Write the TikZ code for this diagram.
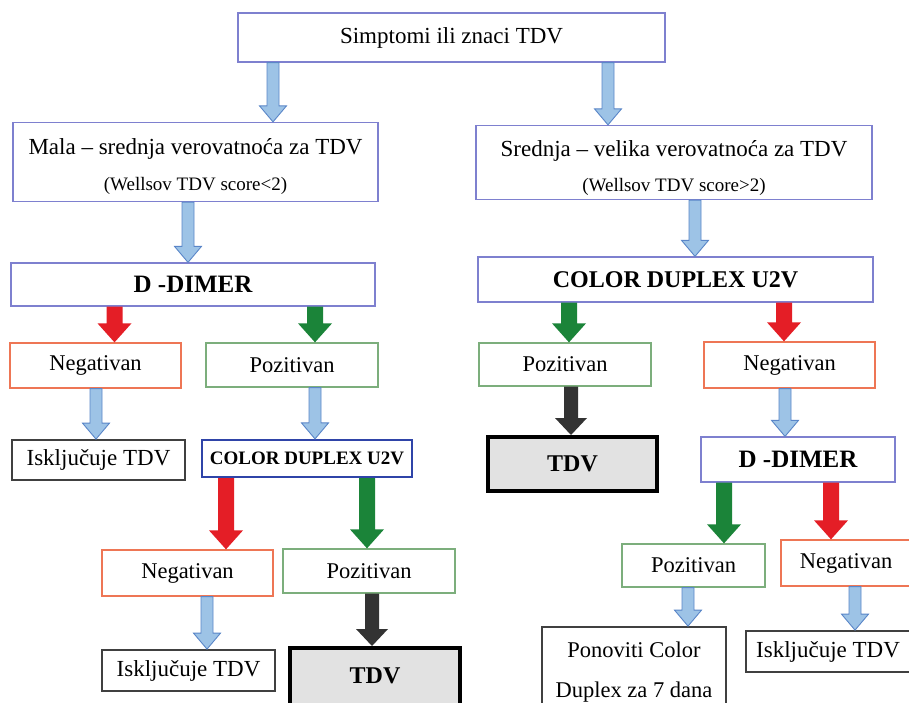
\documentclass[tikz,border=0pt]{standalone}
\usepackage{fontspec}
\setmainfont{Liberation Serif}
\usetikzlibrary{calc}
\definecolor{boxblue}{HTML}{7E80CF}
\definecolor{darkblue}{HTML}{2F44A8}
\definecolor{negred}{HTML}{EE7655}
\definecolor{posgreen}{HTML}{7CAE7C}
\definecolor{iskgray}{HTML}{404040}
\definecolor{tdvgray}{HTML}{E2E2E2}
\definecolor{arrblue}{HTML}{9DC3E6}
\definecolor{arrblueedge}{HTML}{5A86C8}
\definecolor{arrred}{HTML}{E41E26}
\definecolor{arrgreen}{HTML}{1B8439}
\definecolor{arrdark}{HTML}{333333}
\newcommand\fatarr[7]{%
  \path[#1] let \p1=(#2,0), \p2=(#3.south), \p3=(#4.north) in
    (\x1-#5,\y2) -- (\x1-#5,\y3+#7) -- (\x1-#6,\y3+#7) -- (\x1,\y3)
    -- (\x1+#6,\y3+#7) -- (\x1+#5,\y3+#7) -- (\x1+#5,\y2) -- cycle;}
\newcommand\bluearr[3]{\fatarr{fill=arrblue,draw=arrblueedge,line width=0.9pt}{#1}{#2}{#3}{6pt}{13.5pt}{16pt}}
\newcommand\redarr[3]{\fatarr{fill=arrred}{#1}{#2}{#3}{8pt}{17pt}{19pt}}
\newcommand\greenarr[3]{\fatarr{fill=arrgreen}{#1}{#2}{#3}{8pt}{17pt}{19pt}}
\newcommand\darkarr[3]{\fatarr{fill=arrdark}{#1}{#2}{#3}{7pt}{16pt}{17pt}}
\tikzset{
  box/.style={draw, rectangle, inner sep=0pt, line width=1.3pt, fill=white, align=center},
  bluebox/.style={box, draw=boxblue},
  negbox/.style={box, draw=negred, font=\fontsize{22.5}{26}\selectfont},
  posbox/.style={box, draw=posgreen, font=\fontsize{22.5}{26}\selectfont},
  iskbox/.style={box, draw=iskgray, line width=1.8pt, font=\fontsize{23}{26}\selectfont},
  tdvbox/.style={box, draw=black, line width=4pt, fill=tdvgray, font=\fontsize{24}{28}\selectfont\bfseries},
  cdsmall/.style={box, draw=darkblue, line width=2.2pt, font=\fontsize{19}{22}\selectfont\bfseries},
}
\begin{document}
\begin{tikzpicture}[x=1pt,y=-1pt]
\useasboundingbox (0,0) rectangle (909,702);
\clip (0,0) rectangle (909,702);
\fill[white] (0,0) rectangle (909,702);
% level 1
\node[bluebox, minimum width=427pt, minimum height=49pt, font=\fontsize{23}{26}\selectfont] (top) at (451.5,37.5) {Simptomi ili znaci TDV};
% level 2
\node[bluebox, minimum width=365pt, minimum height=79pt, font=\fontsize{23}{36}\selectfont] (L2) at (195.5,162)
  {\rule{0pt}{26pt}Mala – srednja verovatnoća za TDV\\{\fontsize{19}{22}\selectfont (Wellsov TDV score<2)}};
\node[bluebox, minimum width=396pt, minimum height=74pt, font=\fontsize{23}{35}\selectfont] (R2) at (674,162.5)
  {\rule{0pt}{28pt}Srednja – velika verovatnoća za TDV\\{\fontsize{19}{22}\selectfont (Wellsov TDV score>2)}};
% level 3
\node[bluebox, minimum width=364pt, minimum height=43pt, font=\fontsize{25}{28}\selectfont\bfseries] (LDD) at (193,284.5) {D -DIMER};
\node[bluebox, minimum width=395pt, minimum height=45pt, font=\fontsize{24}{28}\selectfont\bfseries] (RCD) at (675.5,279.5) {COLOR DUPLEX U2V};
% level 4
\node[negbox, minimum width=171pt, minimum height=45pt] (LNeg) at (95.5,365.5) {Negativan};
\node[posbox, minimum width=172pt, minimum height=44pt] (LPos) at (292,365) {Pozitivan};
\node[posbox, minimum width=172pt, minimum height=43pt] (RPos) at (565,364.5) {Pozitivan};
\node[negbox, minimum width=171pt, minimum height=46pt] (RNeg) at (789.5,365) {Negativan};
% level 5
\node[iskbox, minimum width=173pt, minimum height=40pt] (LIsk) at (98.5,460) {Isključuje TDV};
\node[cdsmall, minimum width=210pt, minimum height=37pt] (LCD) at (307,458.5) {COLOR DUPLEX U2V};
\node[tdvbox, minimum width=169pt, minimum height=54pt] (RTDV) at (572.5,464) {TDV};
\node[bluebox, minimum width=194pt, minimum height=45pt, font=\fontsize{25}{28}\selectfont\bfseries] (RDD) at (798,459.5) {D -DIMER};
% level 6
\node[negbox, minimum width=171pt, minimum height=46pt] (LNeg2) at (187.5,573) {Negativan};
\node[posbox, minimum width=172pt, minimum height=44pt] (LPos2) at (369,571) {Pozitivan};
\node[posbox, minimum width=143pt, minimum height=43pt] (RPos2) at (693.5,565.5) {Pozitivan};
\node[negbox, minimum width=130pt, minimum height=46pt] (RNeg2) at (846,563) {Negativan};
% level 7
\node[iskbox, minimum width=173pt, minimum height=41pt] (LIsk2) at (188.5,670.5) {Isključuje TDV};
\node[tdvbox, minimum width=170pt, minimum height=60pt, text depth=0pt] (LTDV) at (375,678) {\raisebox{4pt}{TDV}};
\node[iskbox, minimum width=184pt, minimum height=91pt, font=\fontsize{22.5}{40}\selectfont] (RPon) at (634,672.5) {Ponoviti Color\\Duplex za 7 dana};
\node[iskbox, minimum width=164pt, minimum height=41pt] (RIsk2) at (828,651.5) {Isključuje TDV};
% arrows
\bluearr{273}{top}{L2}
\bluearr{608}{top}{R2}
\bluearr{188}{L2}{LDD}
\bluearr{695}{R2}{RCD}
\redarr{114.5}{LDD}{LNeg}
\greenarr{315}{LDD}{LPos}
\greenarr{569}{RCD}{RPos}
\redarr{784}{RCD}{RNeg}
\bluearr{96}{LNeg}{LIsk}
\bluearr{315}{LPos}{LCD}
\darkarr{571}{RPos}{RTDV}
\bluearr{785}{RNeg}{RDD}
\redarr{226}{LCD}{LNeg2}
\greenarr{367}{LCD}{LPos2}
\greenarr{724}{RDD}{RPos2}
\redarr{831}{RDD}{RNeg2}
\bluearr{207}{LNeg2}{LIsk2}
\darkarr{372}{LPos2}{LTDV}
\bluearr{688}{RPos2}{RPon}
\bluearr{855}{RNeg2}{RIsk2}
\end{tikzpicture}
\end{document}
